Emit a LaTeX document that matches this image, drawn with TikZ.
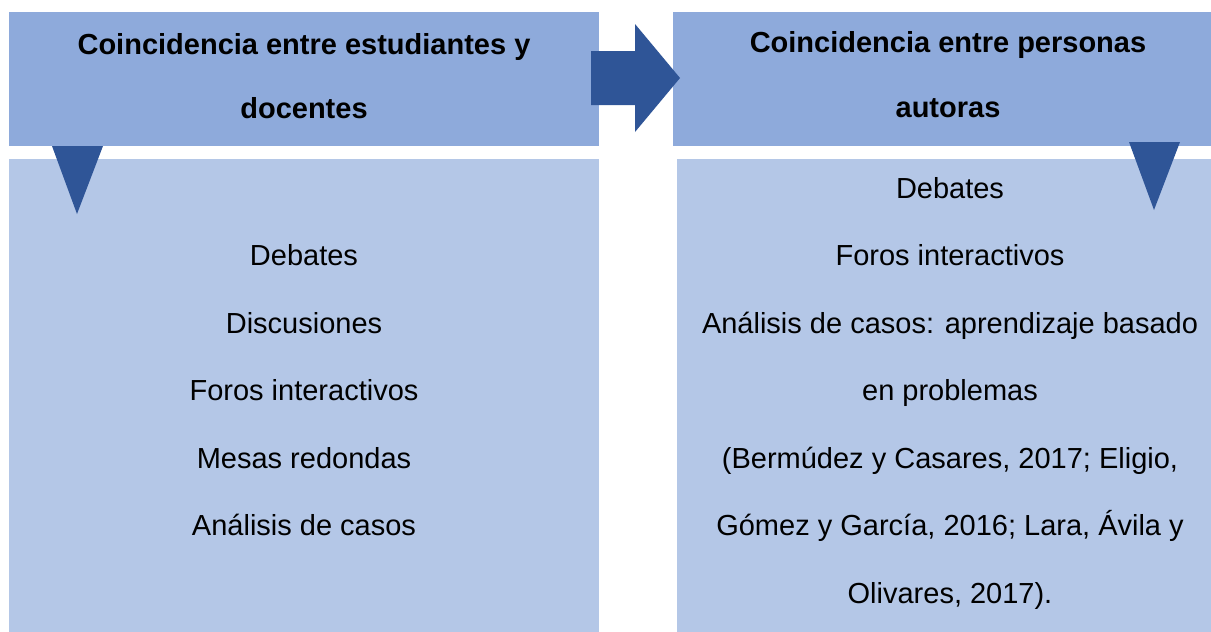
\documentclass[tikz,border=0pt]{standalone}
\usepackage{fontspec}
\setmainfont{Liberation Sans}
\definecolor{headblue}{HTML}{8EAADB}
\definecolor{bodyblue}{HTML}{B4C7E7}
\definecolor{darkblue}{HTML}{2F5597}
\tikzset{
  headbox/.style={fill=headblue,draw=none},
  bodybox/.style={fill=bodyblue,draw=none},
  marker/.style={fill=darkblue,draw=none},
  headtxt/.style={anchor=base,inner sep=0pt,font=\fontsize{29}{35}\selectfont\bfseries},
  bodytxt/.style={anchor=base,inner sep=0pt,font=\fontsize{29}{35}\selectfont}
}
\begin{document}
\begin{tikzpicture}[x=1pt,y=-1pt]
\useasboundingbox (0,0) rectangle (1211,632);
% boxes
\path[headbox] (9,12) rectangle (599,146);
\path[bodybox] (9,159) rectangle (599,632);
\path[headbox] (673,12) rectangle (1211,146);
\path[bodybox] (677,159) rectangle (1211,632);
% markers
\path[marker] (52,146) -- (103,146) -- (77,214) -- cycle;
\path[marker] (1129,142) -- (1180,142) -- (1154,210) -- cycle;
\path[marker] (591,51) -- (635,51) -- (635,24) -- (680,78) -- (635,132) -- (635,105) -- (591,105) -- cycle;
% left header text
\node[headtxt] (lh1) at (304,54) {Coincidencia entre estudiantes y};
\node[headtxt] (lh2) at (304,118) {docentes};
% right header text
\node[headtxt] (rh1) at (948,52) {Coincidencia entre personas};
\node[headtxt] (rh2) at (948,117) {autoras};
% left body
\node[bodytxt] (l1) at (304,265) {Debates};
\node[bodytxt] (l2) at (304,333) {Discusiones};
\node[bodytxt] (l3) at (304,400) {Foros interactivos};
\node[bodytxt] (l4) at (304,468) {Mesas redondas};
\node[bodytxt] (l5) at (304,535) {Análisis de casos};
% right body
\node[bodytxt] (r1) at (950,198) {Debates};
\node[bodytxt] (r2) at (950,265) {Foros interactivos};
\node[bodytxt] (r3) at (950,333) {Análisis de casos: aprendizaje basado};
\node[bodytxt] (r4) at (950,400) {en problemas};
\node[bodytxt] (r5) at (950,468) {(Bermúdez y Casares, 2017; Eligio,};
\node[bodytxt] (r6) at (950,535) {Gómez y García, 2016; Lara, Ávila y};
\node[bodytxt] (r7) at (950,603) {Olivares, 2017).};
\end{tikzpicture}
\end{document}
